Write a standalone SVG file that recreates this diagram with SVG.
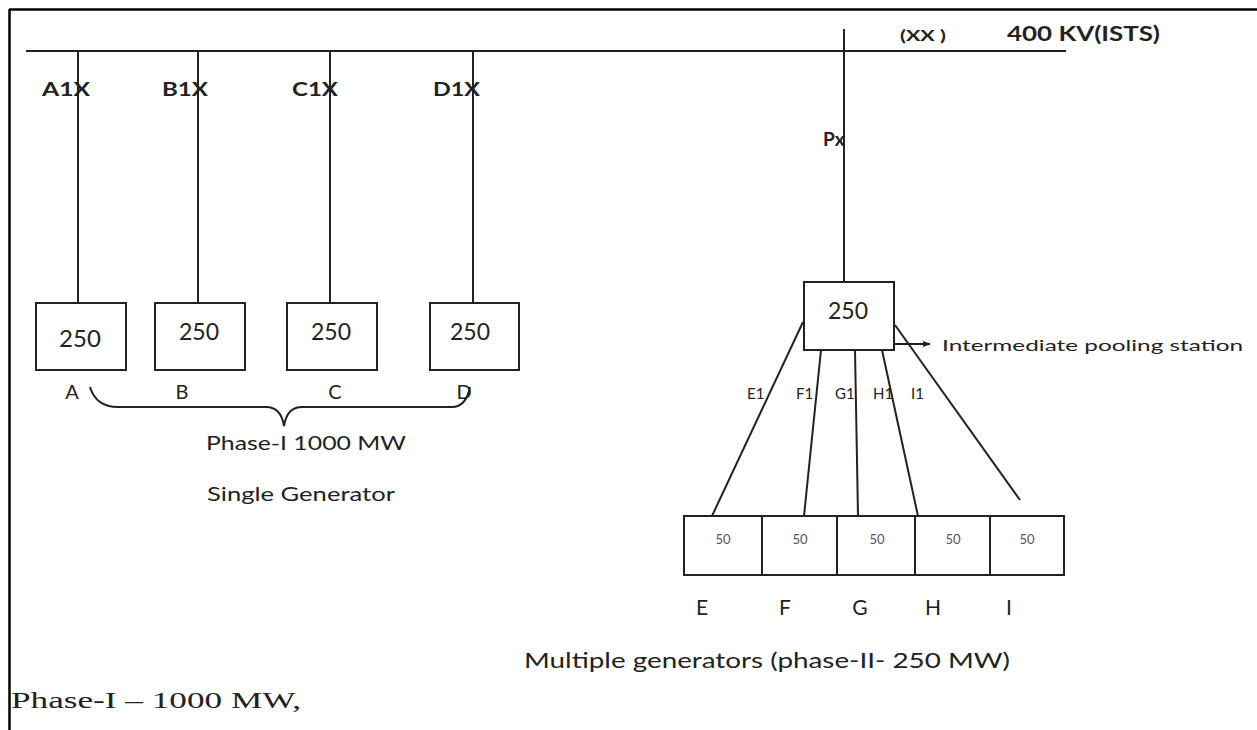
<svg xmlns="http://www.w3.org/2000/svg" width="1257" height="730" viewBox="0 0 1257 730">
<style>
.ln{stroke:#222;stroke-width:2;fill:none}
.bx{stroke:#222;stroke-width:2;fill:#fff}
.t{font-family:Lato,"Liberation Sans",sans-serif;fill:#222}
.b{font-weight:bold}
.m{text-anchor:middle}
.s50{font-size:13px;fill:#555}
</style>
<defs>
<marker id="arr" viewBox="0 0 10 10" refX="9" refY="5" markerWidth="8" markerHeight="8" orient="auto" markerUnits="userSpaceOnUse">
<path d="M0,1 L10,5 L0,9 Z" fill="#222"/>
</marker>
</defs>
<rect width="1257" height="730" fill="#fff"/>
<g id="frame">
<line x1="9" y1="9.5" x2="1257" y2="9.5" stroke="#000" stroke-width="2.5"/>
<line x1="9.5" y1="9" x2="9.5" y2="730" stroke="#000" stroke-width="2.5"/>
</g>
<g id="connectors">
<line class="ln" x1="26" y1="51" x2="1066" y2="51"/>
<line class="ln" x1="78" y1="51" x2="78" y2="303"/>
<line class="ln" x1="198" y1="51" x2="198" y2="303"/>
<line class="ln" x1="330" y1="51" x2="330" y2="303"/>
<line class="ln" x1="473" y1="51" x2="473" y2="303"/>
<line class="ln" x1="844" y1="29" x2="844" y2="282"/>
<line class="ln" x1="803" y1="322" x2="712" y2="516"/>
<line class="ln" x1="821" y1="350" x2="804" y2="516"/>
<line class="ln" x1="855" y1="350" x2="858" y2="516"/>
<line class="ln" x1="882" y1="350" x2="918" y2="516"/>
<line class="ln" x1="895" y1="325" x2="1020" y2="500"/>
<line class="ln" x1="894" y1="344" x2="930" y2="344" marker-end="url(#arr)"/>
<path class="ln" d="M90,387 Q96,407 118,407 L266,407 Q281,407 284,426 Q287,407 302,407 L452,407 Q466,407 470,387"/>
</g>
<g id="bus-labels">
<text class="t b" x="42" y="96" font-size="19" textLength="48" lengthAdjust="spacingAndGlyphs">A1X</text>
<text class="t b" x="162" y="96" font-size="19" textLength="46" lengthAdjust="spacingAndGlyphs">B1X</text>
<text class="t b" x="292" y="96" font-size="19" textLength="46" lengthAdjust="spacingAndGlyphs">C1X</text>
<text class="t b" x="433" y="96" font-size="19" textLength="47" lengthAdjust="spacingAndGlyphs">D1X</text>
<text class="t b" x="823" y="146" font-size="19">Px</text>
<text class="t b" x="900" y="41" font-size="16" textLength="46" lengthAdjust="spacingAndGlyphs">(XX )</text>
<text class="t b" x="1007" y="41" font-size="20" textLength="153" lengthAdjust="spacingAndGlyphs">400 KV(ISTS)</text>
</g>
<g id="node-A">
<rect class="bx" x="36" y="303" width="90" height="67"/>
<text class="t m" x="80" y="347" font-size="24">250</text>
<text class="t m" x="72" y="399" font-size="20">A</text>
</g>
<g id="node-B">
<rect class="bx" x="155" y="303" width="90" height="67"/>
<text class="t m" x="199" y="340" font-size="23">250</text>
<text class="t m" x="182" y="399" font-size="20">B</text>
</g>
<g id="node-C">
<rect class="bx" x="287" y="303" width="90" height="67"/>
<text class="t m" x="331" y="340" font-size="23">250</text>
<text class="t m" x="335" y="399" font-size="20">C</text>
</g>
<g id="node-D">
<rect class="bx" x="430" y="303" width="89" height="67"/>
<text class="t m" x="470" y="340" font-size="23">250</text>
<text class="t m" x="464" y="399" font-size="20">D</text>
</g>
<g id="phase1-label">
<text class="t m" x="306" y="450" font-size="20" textLength="200" lengthAdjust="spacingAndGlyphs">Phase-I 1000 MW</text>
<text class="t m" x="301" y="501" font-size="20" textLength="188" lengthAdjust="spacingAndGlyphs">Single Generator</text>
</g>
<g id="node-pool">
<rect class="bx" x="804" y="282" width="90" height="68"/>
<text class="t m" x="848" y="319" font-size="23">250</text>
<text class="t" x="942" y="351" font-size="16" textLength="301" lengthAdjust="spacingAndGlyphs">Intermediate pooling station</text>
</g>
<g id="feeder-labels">
<text class="t" x="747" y="399" font-size="15">E1</text>
<text class="t" x="796" y="399" font-size="15">F1</text>
<text class="t" x="835" y="399" font-size="15">G1</text>
<text class="t" x="873" y="399" font-size="15">H1</text>
<text class="t" x="911" y="399" font-size="15">I1</text>
</g>
<g id="node-E">
<rect class="bx" x="684" y="516" width="78" height="59"/>
<text class="t m s50" x="723" y="544">50</text>
<text class="t m" x="702" y="615" font-size="21">E</text>
</g>
<g id="node-F">
<rect class="bx" x="762" y="516" width="75" height="59"/>
<text class="t m s50" x="800" y="544">50</text>
<text class="t m" x="785" y="615" font-size="21">F</text>
</g>
<g id="node-G">
<rect class="bx" x="837" y="516" width="78" height="59"/>
<text class="t m s50" x="877" y="544">50</text>
<text class="t m" x="860" y="615" font-size="21">G</text>
</g>
<g id="node-H">
<rect class="bx" x="915" y="516" width="75" height="59"/>
<text class="t m s50" x="953" y="544">50</text>
<text class="t m" x="933" y="615" font-size="21">H</text>
</g>
<g id="node-I">
<rect class="bx" x="990" y="516" width="74" height="59"/>
<text class="t m s50" x="1027" y="544">50</text>
<text class="t m" x="1009" y="615" font-size="21">I</text>
</g>
<g id="phase2-label">
<text class="t" x="524" y="668" font-size="21" textLength="486" lengthAdjust="spacingAndGlyphs">Multiple generators (phase-II- 250 MW)</text>
</g>
<g id="footer">
<text x="11" y="708" font-family="'Liberation Serif',serif" font-size="23" fill="#222" textLength="290" lengthAdjust="spacingAndGlyphs">Phase-I – 1000 MW,</text>
</g>
</svg>
